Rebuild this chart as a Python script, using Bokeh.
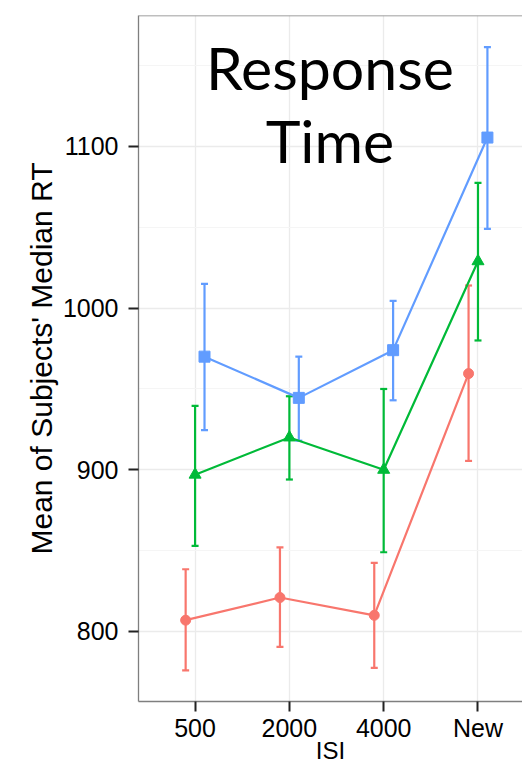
from bokeh.plotting import figure
from bokeh.models import Range1d, FixedTicker, Whisker, TeeHead, ColumnDataSource, Label, Span
from bokeh.transform import dodge
from bokeh.embed import file_html
from bokeh.resources import INLINE

# ---- data ----
isi_labels = ["500", "2000", "4000", "New"]
y_ticks = [800, 900, 1000, 1100]
y_minor_ticks = [850, 950, 1050, 1150]

red_mean = [807, 821, 810, 959.5]
red_lower = [776, 790.5, 777.5, 905.5]
red_upper = [838.5, 852, 842.5, 1014]

green_mean = [897, 920, 900, 1029]
green_lower = [853, 894, 849, 980]
green_upper = [939.5, 945.5, 950, 1077.5]

blue_mean = [970, 944.5, 974, 1105.5]
blue_lower = [924.5, 918, 943, 1049]
blue_upper = [1015, 970, 1004.5, 1161.5]

title_lines = ["Response", "Time"]
x_title = "ISI"
y_title = "Mean of Subjects' Median RT"

xpos = [i + 1 for i in range(len(isi_labels))]

BORDER = "#7F7F7F"
GRID = "#EBEBEB"
MINOR_GRID = "#F5F5F5"
FONT = "Liberation Sans"

y_start, y_end = 756.7, 1181.0

p = figure(width=522, height=767, output_backend="svg", toolbar_location=None,
           x_range=Range1d(0.4, 4.472), y_range=Range1d(y_start, y_end),
           min_border_left=138, min_border_right=0, min_border_top=15, min_border_bottom=66)
p.background_fill_color = "white"
p.border_fill_color = "white"
p.outline_line_color = None

for ax in (p.xaxis[0], p.yaxis[0]):
    ax.axis_line_color = BORDER
    ax.axis_line_width = 1.3
    ax.major_tick_line_color = "#222222"
    ax.major_tick_line_width = 2
    ax.major_tick_out = 10
    ax.major_tick_in = 0
    ax.minor_tick_out = 0
    ax.minor_tick_in = 0
    ax.major_label_text_font = FONT
    ax.major_label_text_font_size = "25px"
    ax.major_label_text_color = "black"

p.xaxis.ticker = FixedTicker(ticks=xpos)
p.xaxis.major_label_overrides = {x: lab for x, lab in zip(xpos, isi_labels)}
p.xaxis.major_label_standoff = 2
p.xaxis.axis_label = x_title
p.xaxis.axis_label_text_font = FONT
p.xaxis.axis_label_text_font_size = "24px"
p.xaxis.axis_label_text_font_style = "normal"
p.xaxis.axis_label_text_color = "black"
p.xaxis.axis_label_standoff = -8

p.yaxis.ticker = FixedTicker(ticks=y_ticks, minor_ticks=y_minor_ticks)
p.yaxis.major_label_standoff = 10
p.yaxis.axis_label = y_title
p.yaxis.axis_label_text_font = FONT
p.yaxis.axis_label_text_font_size = "30px"
p.yaxis.axis_label_text_font_style = "normal"
p.yaxis.axis_label_text_color = "black"
p.yaxis.axis_label_standoff = 2

p.xgrid.grid_line_color = GRID
p.xgrid.grid_line_width = 1.3
p.ygrid.grid_line_color = GRID
p.ygrid.grid_line_width = 1.3
p.ygrid.minor_grid_line_color = MINOR_GRID
p.ygrid.minor_grid_line_width = 1

p.add_layout(Span(location=y_end, dimension="width", line_color=BORDER, line_width=1.3))

series = [
    (red_mean, red_lower, red_upper, "#F8766D", "circle", 10, -0.1),
    (green_mean, green_lower, green_upper, "#00BA38", "triangle", 12, 0.0),
    (blue_mean, blue_lower, blue_upper, "#619CFF", "square", 11, 0.1),
]

for mean, lower, upper, color, marker, size, off in series:
    src = ColumnDataSource(dict(x=xpos, mean=mean, lower=lower, upper=upper))
    p.line(x=dodge("x", off), y="mean", source=src, line_color=color, line_width=2.2)
    wh = Whisker(base=dodge("x", off), upper="upper", lower="lower", source=src,
                 line_color=color, line_width=2.2,
                 upper_head=TeeHead(size=7, line_color=color, line_width=2.2),
                 lower_head=TeeHead(size=7, line_color=color, line_width=2.2))
    p.add_layout(wh)
    p.scatter(x=dodge("x", off), y="mean", source=src, marker=marker, size=size,
              fill_color=color, line_color=color)

# in-panel title (two lines)
p.add_layout(Label(x=2.43, y=1148.8, text=title_lines[0], text_font="Lato",
                   text_font_size="59px", text_color="black",
                   text_align="center", text_baseline="alphabetic"))
p.add_layout(Label(x=2.43, y=1103.7, text=title_lines[1], text_font="Lato",
                   text_font_size="59px", text_color="black",
                   text_align="center", text_baseline="alphabetic"))

open("out.html", "w").write(file_html(p, INLINE))
